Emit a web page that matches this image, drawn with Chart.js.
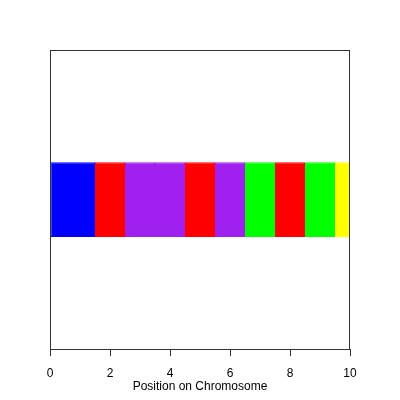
<!DOCTYPE html>
<html>
<head>
<meta charset="utf-8">
<script src="https://cdn.jsdelivr.net/npm/chart.js@4"></script>
<style>html,body{margin:0;padding:0;background:#fff;}canvas{display:block;}</style>
</head>
<body>
<canvas id="c" width="400" height="400"></canvas>
<script>
const segmentStarts = [0, 1.5, 2.5, 3.5, 4.5, 5.5, 6.5, 7.5, 8.5, 9.5];
const segmentEnds   = [1.5, 2.5, 3.5, 4.5, 5.5, 6.5, 7.5, 8.5, 9.5, 10];
const segmentColors = ['#0000FF','#FF0000','#A020F0','#A020F0','#FF0000','#A020F0','#00FF00','#FF0000','#00FF00','#FFFF00'];
const xTicks = [0, 2, 4, 6, 8, 10];
const xTitle = 'Position on Chromosome';

const datasets = segmentStarts.map((s, i) => ({
  data: [[s, segmentEnds[i]]],
  backgroundColor: segmentColors[i],
  borderColor: segmentColors[i],
  borderWidth: 1,
  borderSkipped: false,
  barPercentage: 1,
  categoryPercentage: 0.25,
  grouped: false
}));

const boxPlugin = {
  id: 'box',
  afterDraw(chart) {
    const a = chart.chartArea, ctx = chart.ctx;
    ctx.save();
    ctx.strokeStyle = '#333';
    ctx.lineWidth = 1;
    ctx.strokeRect(Math.round(a.left) + 0.5, Math.round(a.top) + 0.5, Math.round(a.right - a.left) - 1, Math.round(a.bottom - a.top));
    ctx.restore();
  }
};

new Chart(document.getElementById('c'), {
  type: 'bar',
  data: { labels: ['chr'], datasets },
  options: {
    indexAxis: 'y',
    responsive: false,
    animation: false,
    layout: { padding: { left: 50, right: 50, top: 50, bottom: 6 } },
    plugins: { legend: { display: false }, tooltip: { enabled: false } },
    scales: {
      y: { display: false },
      x: {
        type: 'linear', min: 0, max: 10,
        afterBuildTicks(scale) { scale.ticks = xTicks.map(v => ({ value: v })); },
        grid: { drawOnChartArea: false, tickLength: 7, color: '#333', tickWidth: 1 },
        border: { display: true, color: '#333', width: 1 },
        ticks: { padding: 10, color: '#000', font: { family: 'Liberation Sans', size: 12 }, maxRotation: 0, autoSkip: false },
        title: { display: true, text: xTitle, color: '#000', padding: { top: -11, bottom: 0 }, font: { family: 'Liberation Sans', size: 12 } }
      }
    }
  },
  plugins: [boxPlugin]
});
</script>
</body>
</html>
